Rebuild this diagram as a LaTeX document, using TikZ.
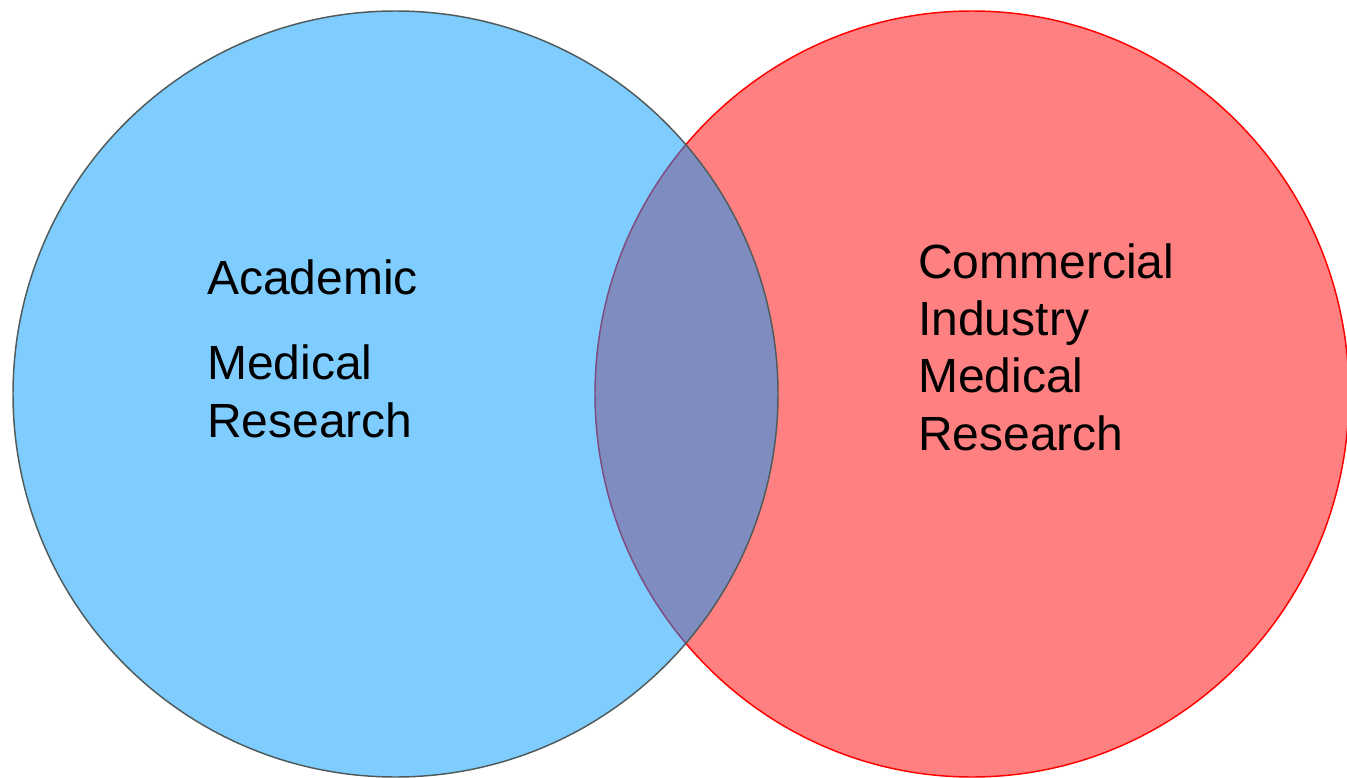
\documentclass[tikz,border=0pt]{standalone}
\usepackage{fontspec}
\setmainfont{Liberation Sans}
\usetikzlibrary{shapes.geometric}
\definecolor{setblue}{HTML}{0099FF}
\definecolor{setred}{HTML}{FF8080}
\definecolor{setgray}{HTML}{4F5B5B}

\begin{document}
\begin{tikzpicture}[x=0.75pt,y=-0.75pt,
  set node/.style={ellipse,draw,line width=1.1pt,inner sep=0pt},
  label node/.style={anchor=base west,align=left,inner sep=0pt,
    font=\fontsize{36}{43}\selectfont}]

\useasboundingbox (0,0) rectangle (1347,778);

% the two sets, academic on top
\node[set node,draw=red,fill=setred,minimum width=565.5pt,minimum height=574.5pt]
  (industry) at (972,394) {};
\node[set node,draw=setgray,fill=setblue,fill opacity=0.5,
  minimum width=573.75pt,minimum height=574.5pt] (academic) at (395.5,394) {};

% base anchor sits on the last line
\node[label node] (academic text) at (207,437) {Academic\\[21pt]Medical\\Research};
\node[label node] (industry text) at (918,450) {Commercial\\Industry\\Medical\\Research};

\end{tikzpicture}
\end{document}
